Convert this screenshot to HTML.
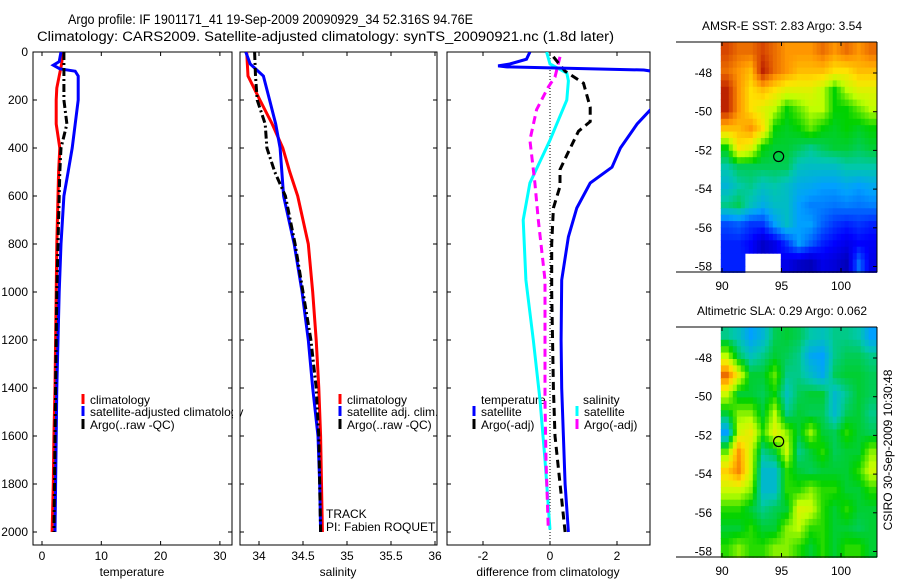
<!DOCTYPE html>
<html><head><meta charset="utf-8"><style>
html,body{margin:0;padding:0;background:#fff;}
svg{display:block;font-family:"Liberation Sans",sans-serif;}
</style></head><body>
<svg id="fig" width="900" height="580" viewBox="0 0 900 580" xmlns="http://www.w3.org/2000/svg">
<defs>
<clipPath id="c1"><rect x="33" y="52" width="199" height="493"/></clipPath>
<clipPath id="c2"><rect x="240" y="52" width="197" height="493"/></clipPath>
<clipPath id="c3"><rect x="447" y="52" width="203" height="493"/></clipPath>
</defs>
<text x="68" y="24" font-size="13.5" textLength="405" lengthAdjust="spacingAndGlyphs">Argo profile: IF 1901171_41 19-Sep-2009 20090929_34 52.316S 94.76E</text>
<text x="37" y="41" font-size="13.5" textLength="577" lengthAdjust="spacingAndGlyphs">Climatology: CARS2009. Satellite-adjusted climatology: synTS_20090921.nc (1.8d later)</text>
<g id="root"></g>
</svg>
<script>
// ---------- data ----------
const tDepth = [0,50,100,150,200,300,400,500,600,800,1000,1200,1400,1600,1800,2000];
const tClim  = [3.5,3.3,2.9,2.5,2.4,2.4,3.0,2.8,2.7,2.5,2.4,2.3,2.2,2.0,1.9,1.7];
const tArgo  = [3.7,3.7,3.7,3.7,3.7,4.2,3.2,3.0,2.9,2.7,2.5,2.4,2.3,2.2,2.1,2.0];
const tSatDepth = [0,40,55,70,80,100,200,300,400,500,600,800,1000,1200,1400,1600,1800,2000];
const tSat   = [3.2,2.9,1.9,3.0,5.6,6.1,6.1,5.6,5.1,4.4,3.7,3.2,2.9,2.7,2.5,2.4,2.3,2.2];

const sDepth = [0,100,200,300,400,500,600,800,1000,1200,1400,1600,1800,2000];
const sClim  = [33.86,33.875,34.01,34.15,34.27,34.35,34.44,34.56,34.61,34.65,34.68,34.70,34.71,34.72];
const sArgo  = [33.95,33.96,33.98,34.07,34.09,34.18,34.30,34.41,34.50,34.59,34.65,34.68,34.69,34.70];
const sSatDepth = [0,50,100,200,300,400,600,800,1000,1200,1400,1600,1800,2000];
const sSat   = [33.85,33.90,34.05,34.12,34.19,34.24,34.28,34.40,34.49,34.56,34.61,34.67,34.69,34.70];

const dTsatDepth = [0,30,50,58,62,68,75,90,150,240,300,400,480,546,650,770,950,1200,1400,1600,1800,2000];
const dTsat  = [-0.6,-0.7,-1.2,-1.55,-1.3,0.5,2.8,3.5,4.5,3.0,2.6,2.1,1.85,1.2,0.8,0.55,0.35,0.33,0.35,0.4,0.45,0.55];
const dTargoDepth = [20,80,130,230,290,330,430,490,560,650,800,1000,1400,1600,2000];
const dTargo = [0.1,0.45,1.0,1.2,1.2,0.85,0.5,0.3,0.3,0.1,0.05,0.05,0.1,0.15,0.45];
const dSsatDepth = [0,50,88,120,200,367,546,700,950,1200,1450,1700,1990];
const dSsat  = [-0.1,0,0.5,0.55,0.5,0,-0.6,-0.8,-0.72,-0.5,-0.3,-0.15,0];
const dSargoDepth = [20,104,146,240,367,546,700,950,1200,1450,1700,1990];
const dSargo = [0.3,0.15,-0.05,-0.4,-0.6,-0.45,-0.35,-0.15,-0.15,-0.15,-0.12,-0.05];

const depthTicks = [0,200,400,600,800,1000,1200,1400,1600,1800,2000];
const tTicks = [0,10,20,30];
const sTicks = [34,34.5,35,35.5,36];
const sTickLabels = ["34","34.5","35","35.5","36"];
const dTicks = [-2,0,2];

const lonTicks = [90,95,100];
const latTicks = [-48,-50,-52,-54,-56,-58];
const sstGrid = [
[0.9,0.85,0.85,0.9,0.85,0.8,0.8,0.8,0.85,0.8,0.85,0.8,0.85],
[0.85,0.8,0.75,0.95,0.85,0.8,0.75,0.75,0.75,0.7,0.7,0.75,0.75],
[0.95,0.8,0.7,0.75,0.7,0.65,0.65,0.65,0.6,0.5,0.6,0.65,0.65],
[0.95,0.8,0.7,0.65,0.6,0.5,0.55,0.6,0.6,0.5,0.5,0.55,0.6],
[0.75,0.75,0.8,0.7,0.5,0.48,0.5,0.55,0.5,0.48,0.5,0.48,0.5],
[0.5,0.7,0.65,0.5,0.47,0.47,0.45,0.42,0.45,0.47,0.47,0.45,0.47],
[0.4,0.45,0.45,0.45,0.45,0.45,0.38,0.37,0.37,0.37,0.4,0.4,0.4],
[0.35,0.4,0.42,0.38,0.4,0.37,0.33,0.32,0.3,0.3,0.32,0.3,0.32],
[0.42,0.45,0.38,0.33,0.37,0.37,0.3,0.27,0.27,0.26,0.27,0.26,0.27],
[0.22,0.24,0.2,0.2,0.3,0.37,0.3,0.3,0.24,0.2,0.18,0.2,0.18],
[0.18,0.18,0.15,0.08,0.12,0.2,0.3,0.24,0.18,0.15,0.12,0.15,0.14],
[0.18,0.18,-1,-1,-1,0.12,0.08,0.06,0.12,0.1,0.06,0.25,0.12]];
const slaGrid = [
[0.42,0.38,0.3,0.35,0.45,0.47,0.45,0.4,0.38,0.42,0.42,0.4,0.3],
[0.6,0.45,0.38,0.42,0.47,0.45,0.42,0.32,0.3,0.42,0.45,0.45,0.42],
[0.85,0.65,0.47,0.47,0.55,0.42,0.42,0.37,0.32,0.45,0.47,0.47,0.45],
[0.62,0.47,0.47,0.45,0.5,0.38,0.45,0.47,0.47,0.36,0.42,0.47,0.45],
[0.47,0.57,0.57,0.47,0.6,0.42,0.47,0.45,0.45,0.36,0.45,0.47,0.42],
[0.3,0.62,0.67,0.52,0.65,0.57,0.47,0.58,0.47,0.45,0.52,0.47,0.45],
[0.55,0.8,0.62,0.42,0.47,0.62,0.42,0.47,0.52,0.45,0.47,0.47,0.57],
[0.72,0.82,0.62,0.36,0.36,0.52,0.47,0.45,0.47,0.47,0.47,0.52,0.62],
[0.62,0.62,0.57,0.36,0.36,0.52,0.52,0.57,0.52,0.52,0.47,0.47,0.52],
[0.52,0.52,0.47,0.42,0.45,0.47,0.64,0.62,0.52,0.47,0.52,0.47,0.47],
[0.47,0.47,0.52,0.47,0.47,0.57,0.6,0.52,0.52,0.47,0.47,0.45,0.47],
[0.52,0.57,0.52,0.52,0.57,0.57,0.52,0.47,0.52,0.47,0.52,0.52,0.47]];
const floatLon = 94.76, floatLat = -52.316;

// ---------- helpers ----------
const NS="http://www.w3.org/2000/svg";
const root=document.getElementById('root');
function mk(tag,attrs,parent){const e=document.createElementNS(NS,tag);for(const k in attrs)e.setAttribute(k,attrs[k]);(parent||root).appendChild(e);return e;}
function txt(x,y,s,size,anchor,parent){const e=mk('text',{x:x,y:y,'font-size':size,'text-anchor':anchor||'start'},parent);e.textContent=s;return e;}

const yD = d => 52 + d*0.24;
const x1 = v => 42 + v*5.93;
const x2 = v => 259 + (v-34)*88;
const x3 = v => 550 + v*33.5;

function axisBox(x0,x1p,name){
  const g=mk('g',{});
  
  
  mk('rect',{x:x0,y:52,width:x1p-x0,height:493,fill:'none',stroke:'#000','stroke-width':1},g);
  depthTicks.forEach(d=>{
    mk('line',{x1:x0,x2:x0+4,y1:yD(d),y2:yD(d),stroke:'#000'},g);
    mk('line',{x1:x1p,x2:x1p-4,y1:yD(d),y2:yD(d),stroke:'#000'},g);
  });
  return g;
}
function xTicks(g,ticks,labels,fx){
  ticks.forEach((t,i)=>{
    const x=fx(t);
    mk('line',{x1:x,x2:x,y1:545,y2:541,stroke:'#000'},g);
    mk('line',{x1:x,x2:x,y1:52,y2:56,stroke:'#000'},g);
    txt(x,560,labels[i],12,'middle',g);
  });
}
function line(depths,vals,fx,color,dash,clip,name){
  const pts=depths.map((d,i)=>fx(vals[i]).toFixed(1)+','+yD(d).toFixed(1)).join(' ');
  const p=mk('polyline',{points:pts,fill:'none',stroke:color,'stroke-width':3,'clip-path':'url(#'+clip+')','stroke-dasharray':dash||'none'});
  
  
}
function legendEntry(x,y,color,label,name){
  const g=mk('g',{});
  
  
  mk('line',{x1:x,x2:x,y1:y-10,y2:y,stroke:color,'stroke-width':3},g);
  txt(x+7,y,label,12,'start',g);
}

// ---------- panel 1: temperature ----------
const g1=axisBox(33,232,'temperature-axes');
depthTicks.forEach(d=>txt(28,yD(d)+4,String(d),12,'end',g1));
xTicks(g1,tTicks,tTicks.map(String),x1);
txt(132,576,'temperature',12,'middle',g1);
line(tDepth,tClim,x1,'#f00',null,'c1','temp-climatology-line');
line(tSatDepth,tSat,x1,'#00f',null,'c1','temp-satellite-line');
line(tDepth,tArgo,x1,'#000','8,3,2,3','c1','temp-argo-line');
legendEntry(83,404,'#f00','climatology','legend-climatology');
legendEntry(83,416,'#00f','satellite-adjusted climatology','legend-satellite');
legendEntry(83,429,'#000','Argo(..raw -QC)','legend-argo');
mk('rect',{x:233,y:405,width:7,height:14,fill:'#fff'});

// ---------- panel 2: salinity ----------
const g2=axisBox(240,437,'salinity-axes');
xTicks(g2,sTicks,sTickLabels,x2);
txt(338,576,'salinity',12,'middle',g2);
line(sDepth,sClim,x2,'#f00',null,'c2','sal-climatology-line');
line(sSatDepth,sSat,x2,'#00f',null,'c2','sal-satellite-line');
line(sDepth,sArgo,x2,'#000','8,3,2,3','c2','sal-argo-line');
legendEntry(340,404,'#f00','climatology','legend2-climatology');
legendEntry(340,416,'#00f','satellite adj. clim.','legend2-satellite');
legendEntry(340,429,'#000','Argo(..raw -QC)','legend2-argo');
txt(326,518,'TRACK',12,'start',g2);
txt(326,531,'PI: Fabien ROQUET',12,'start',g2);

// ---------- panel 3: difference ----------
const g3=axisBox(447,650,'difference-axes');
xTicks(g3,dTicks,dTicks.map(String),x3);
txt(548,576,'difference from climatology',12,'middle',g3);
mk('line',{x1:x3(0),x2:x3(0),y1:52,y2:545,stroke:'#000','stroke-dasharray':'1,2'});
line(dSsatDepth,dSsat,x3,'#0ff',null,'c3','dsal-satellite-line');
line(dSargoDepth,dSargo,x3,'#f0f','8,5','c3','dsal-argo-line');
line(dTargoDepth,dTargo,x3,'#000','8,5','c3','dtemp-argo-line');
line(dTsatDepth,dTsat,x3,'#00f',null,'c3','dtemp-satellite-line');
txt(481,404,'temperature',12,'start',g3);
legendEntry(474,416,'#00f','satellite','legend3-temp-satellite');
legendEntry(474,429,'#000','Argo(-adj)','legend3-temp-argo');
txt(583,404,'salinity',12,'start',g3);
legendEntry(577,416,'#0ff','satellite','legend3-sal-satellite');
legendEntry(577,429,'#f0f','Argo(-adj)','legend3-sal-argo');

// ---------- maps ----------
const cmapStops=[[0,[0,0,140]],[0.15,[0,0,255]],[0.3,[0,160,255]],[0.4,[0,200,170]],[0.5,[0,210,0]],[0.6,[190,255,0]],[0.7,[255,225,0]],[0.8,[255,150,0]],[0.9,[215,70,0]],[1,[160,0,0]]];
function cmap(v){
  v=Math.max(0,Math.min(1,v));
  for(let i=1;i<cmapStops.length;i++){
    if(v<=cmapStops[i][0]){
      const a=cmapStops[i-1],b=cmapStops[i],t=(v-a[0])/(b[0]-a[0]);
      return 'rgb('+[0,1,2].map(k=>Math.round(a[1][k]+(b[1][k]-a[1][k])*t)).join(',')+')';
    }
  }
  return 'rgb(160,0,0)';
}
function sample(grid,fr,fc){
  const rows=grid.length,cols=grid[0].length;
  const r=Math.max(0,Math.min(rows-1,fr-0.5)), c=Math.max(0,Math.min(cols-1,fc-0.5));
  const r0=Math.floor(r),c0=Math.floor(c),r1=Math.min(rows-1,r0+1),c1=Math.min(cols-1,c0+1);
  const tr=r-r0,tc=c-c0;
  const v=[grid[r0][c0],grid[r0][c1],grid[r1][c0],grid[r1][c1]];
  if(grid[Math.floor(fr)][Math.floor(fc)]<0) return -1;
  const w=[(1-tr)*(1-tc),(1-tr)*tc,tr*(1-tc),tr*tc];
  let s=0,ws=0;for(let i=0;i<4;i++){if(v[i]>=0){s+=v[i]*w[i];ws+=w[i];}}
  return ws>0?s/ws:-1;
}
function drawMap(top,grid,title,name){
  const g=mk('g',{});
  
  
  const R=877,B=top+230;
  const lonX=lon=>722+(lon-90)*11.9;
  const latY=lat=>top+31+(-48-lat)*19.35;
  const rows=grid.length, cols=grid[0].length, sub=3;
  const lon0=89.9, lon1=103.0, lat0=-46.4, lat1=-58.3;
  for(let r=0;r<rows*sub;r++)for(let c=0;c<cols*sub;c++){
    const v=sample(grid,(r+0.5)/sub,(c+0.5)/sub); if(v<0) continue;
    const xa=lonX(lon0+(lon1-lon0)*c/(cols*sub)), xb=lonX(lon0+(lon1-lon0)*(c+1)/(cols*sub));
    const ya=latY(lat0+(lat1-lat0)*r/(rows*sub)), yb=latY(lat0+(lat1-lat0)*(r+1)/(rows*sub));
    const cell=mk('rect',{x:xa.toFixed(1),y:ya.toFixed(1),width:(xb-xa+0.6).toFixed(1),height:(yb-ya+0.6).toFixed(1),fill:cmap(v)},g);
    
    
  }
  mk('line',{x1:676,x2:R,y1:top,y2:top,stroke:'#000'},g);
  mk('line',{x1:676,x2:R,y1:B,y2:B,stroke:'#000'},g);
  mk('line',{x1:R,x2:R,y1:top,y2:B,stroke:'#000'},g);
  latTicks.forEach(t=>{const y=latY(t);mk('line',{x1:R,x2:R-4,y1:y,y2:y,stroke:'#000'},g);txt(712,y+4,String(t),12,'end',g);});
  lonTicks.forEach(t=>{const x=lonX(t);mk('line',{x1:x,x2:x,y1:top,y2:top+4,stroke:'#000'},g);mk('line',{x1:x,x2:x,y1:B,y2:B-4,stroke:'#000'},g);txt(x,B+18,String(t),12,'middle',g);});
  const c=mk('circle',{cx:lonX(floatLon),cy:latY(floatLat),r:5,fill:'none',stroke:'#000','stroke-width':1.2},g);
  
  
  txt(782,top-12,title,12,'middle',g);
}
drawMap(42,sstGrid,'AMSR-E SST: 2.83 Argo: 3.54','sst-map');
drawMap(327,slaGrid,'Altimetric SLA: 0.29 Argo: 0.062','sla-map');

const st=txt(0,0,'CSIRO 30-Sep-2009 10:30:48',12,'middle');
st.setAttribute('transform','translate(892,450) rotate(-90)');


</script>
</body></html>
